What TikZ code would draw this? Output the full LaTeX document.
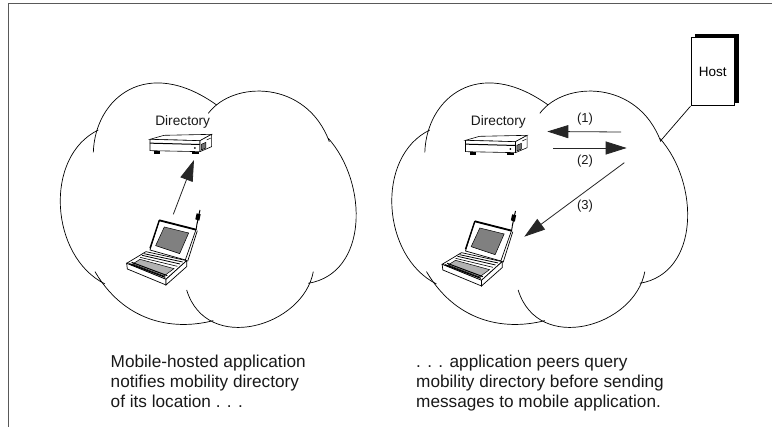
\documentclass[tikz,border=0pt]{standalone}
\usepackage{fontspec}
\setmainfont{Liberation Sans}
\usetikzlibrary{arrows.meta}
\tikzset{
  frameline/.style={draw=black!65,line width=1pt},
  cloudline/.style={draw=black,line width=0.7pt},
  thin line/.style={draw=black,line width=0.7pt},
  bigarrow/.style={draw=black!85,line width=0.8pt,-{Triangle[length=21pt,width=13pt]}},
  caption/.style={align=left,anchor=north west,inner sep=0pt,font=\fontsize{17.2}{20}\selectfont,text=black!90},
  lbl/.style={inner sep=0pt,font=\fontsize{13}{15}\selectfont,text=black!90},
  dirlabel/.style={inner sep=0pt,font=\fontsize{13.7}{15}\selectfont,text=black!90},
  hostbox/.style={draw=black,line width=1.3pt,fill=white,minimum width=43pt,minimum height=68pt,inner sep=0pt,font=\fontsize{13.5}{15}\selectfont},
}
\newcommand{\cloudshape}{%
  \draw[cloudline] (160,247) .. controls (165,85) and (320,-45) .. (530,105);
  \draw[cloudline] (505,130) .. controls (580,30) and (800,30) .. (868,215);
  \draw[cloudline] (865,205) .. controls (985,340) and (985,610) .. (805,640);
  \draw[cloudline] (820,605) .. controls (790,770) and (500,855) .. (440,660);
  \draw[cloudline] (520,752) .. controls (390,785) and (250,750) .. (165,605);
  \draw[cloudline] (195,642) .. controls (30,560) and (10,260) .. (175,180);
}
\newcommand{\serverdraw}{%
  % top
  \draw[line width=0.6pt,fill=white] (330,208) -- (372,196) -- (515,193) -- (480,212) -- cycle;
  % front
  \draw[line width=0.6pt,fill=white] (330,208) -- (480,212) -- (480,245) -- (330,242) -- cycle;
  \fill[black] (330,218) -- (480,222) -- (480,225) -- (330,221) -- cycle;
  % side
  \draw[line width=0.6pt,fill=white] (480,212) -- (515,193) -- (515,230) -- (480,245) -- cycle;
  \draw[line width=0.5pt,fill=black!55] (484,223) -- (498,217) -- (498,234) -- (484,240) -- cycle;
  \draw[line width=0.5pt] (500,210) -- (513,204);
  % feet and lamp
  \fill[black] (343,243) rectangle (361,251);
  \fill[black] (455,245) rectangle (476,253);
  \fill[black] (465,234) circle (3);
}
\newcommand{\laptopdraw}{%
  % lid
  \draw[line width=0.7pt,fill=white] (358,451) -- (468,479) -- (436,570) -- (330,540) -- cycle;
  % antenna: strip along the lid, then the whip
  \draw[line width=0.7pt] (472,482) -- (443,574);
  \draw[line width=0.9pt] (468,481) -- (471,462);
  \draw[line width=1pt] (471,462) -- (480,420);
  \fill[black] (466,448) -- (470,430) -- (482,433) -- (478,452) -- cycle;
  \draw[line width=1.8pt] (358,451) -- (468,479);
  \draw[line width=1.3pt] (358,451) -- (330,535);
  \draw[line width=0.5pt,fill=black!50] (373,471) -- (446,489) -- (419,551) -- (347,527) -- cycle;
  % base
  \draw[line width=0.7pt,fill=white] (260,580) -- (318,545) -- (440,572) -- (378,628) -- cycle;
  \draw[line width=0.7pt,fill=white] (260,580) -- (378,628) -- (378,645) -- (262,597) -- cycle;
  \draw[line width=0.7pt,fill=white] (378,628) -- (440,572) -- (440,590) -- (378,645) -- cycle;
  \draw[line width=0.5pt,fill=black!30] (278,582) -- (300,568) -- (402,596) -- (372,618) -- cycle;
  \draw[line width=0.8pt] (312,551) -- (428,576);
  \draw[line width=0.8pt] (306,556) -- (420,582);
  \draw[line width=0.6pt] (300,562) -- (412,589);
  \draw[line width=1.2pt] (268,581) -- (376,622);
  \draw[line width=1pt] (275,577) -- (382,617);
}
\begin{document}
\begin{tikzpicture}[x=1pt,y=-1pt]
  \useasboundingbox (0,0) rectangle (772,427);
  \fill[white] (0,0) rectangle (772,427);
  % frame
  \draw[frameline] (8,427) -- (8,3.5) -- (772,3.5);

  % left panel
  \begin{scope}[shift={(40,70)},x=0.3333pt,y=-0.3333pt]
    \cloudshape
    \serverdraw
    \laptopdraw
    \coordinate (la) at (400,433);
    \coordinate (lb) at (462,270);
  \end{scope}
  \node[dirlabel] (dirL) at (182.7,121.7) {Directory};
  \draw[bigarrow] (la) -- (lb);
  \node[caption] (capL) at (110.5,355) {Mobile-hosted application\\notifies mobility directory\\of its location . . .};

  % right panel
  \begin{scope}[shift={(371.5,70)},x=0.3333pt,y=-0.3333pt]
    \cloudshape
  \end{scope}
  \begin{scope}[shift={(355.5,71)},x=0.3333pt,y=-0.3333pt]
    \serverdraw
    \laptopdraw
  \end{scope}
  \node[dirlabel] (dirR) at (498.3,121.5) {Directory};

  \coordinate (a1s) at (621,132);
  \coordinate (a1e) at (547.3,131.5);
  \coordinate (a2s) at (553.3,148);
  \coordinate (a2e) at (626.7,148);
  \coordinate (a3s) at (624.3,162.7);
  \coordinate (a3e) at (524.3,236.7);
  \draw[bigarrow] (a1s) -- (a1e);
  \draw[bigarrow] (a2s) -- (a2e);
  \draw[bigarrow] (a3s) -- (a3e);
  \node[lbl] (n1) at (585,119) {(1)};
  \node[lbl] (n2) at (585,161.3) {(2)};
  \node[lbl] (n3) at (585,206) {(3)};

  % host
  \fill[black] (695,34.3) rectangle (739,103);
  \node[hostbox] (host) at (712.7,71.5) {Host};
  \coordinate (hostlink) at (660.7,140.7);
  \draw[thin line] (host.south west) -- (hostlink);

  \node[caption] (capR) at (416,355) {. . . application peers query\\mobility directory before sending\\messages to mobile application.};
\end{tikzpicture}
\end{document}
